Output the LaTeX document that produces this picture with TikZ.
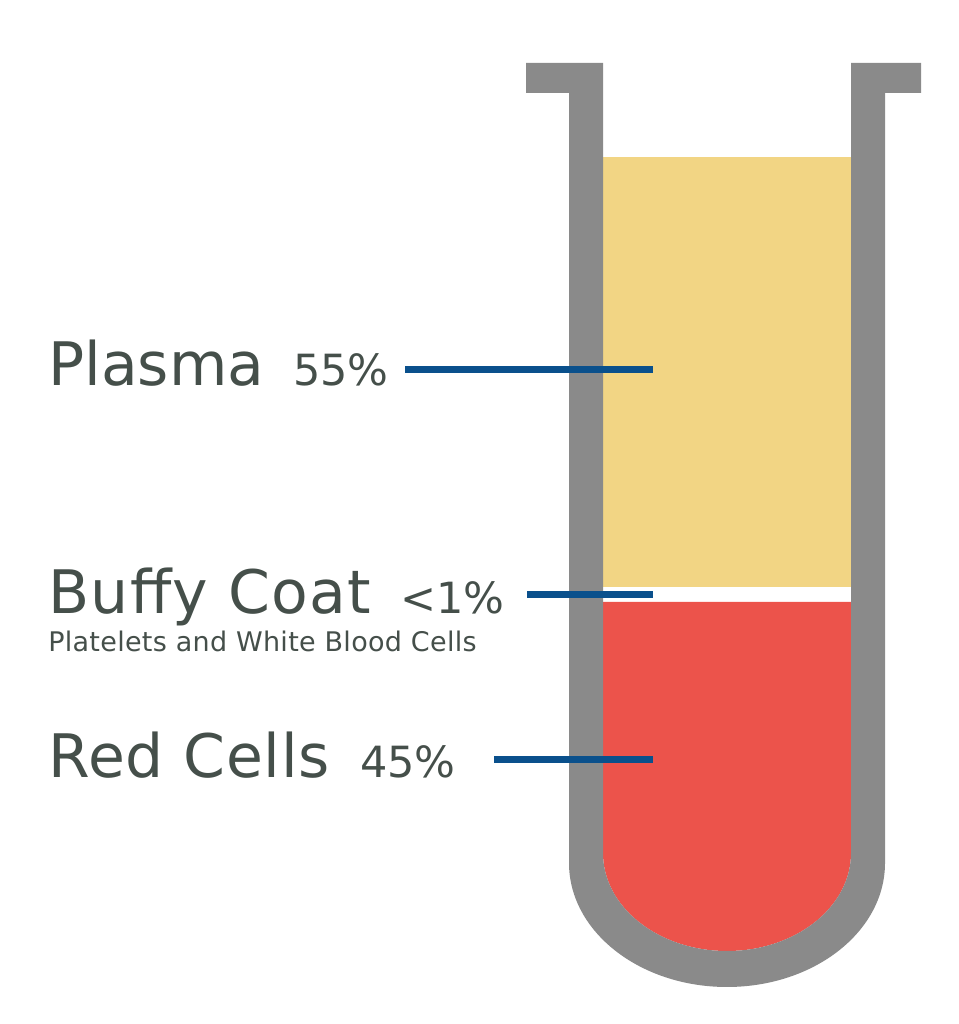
\documentclass[tikz,border=0pt]{standalone}
\usepackage{fontspec}
\setmainfont{DejaVu Sans}
\definecolor{txt}{RGB}{69,79,74}
\definecolor{leadblue}{RGB}{10,80,140}
\definecolor{tubegray}{RGB}{138,138,138}
\definecolor{plasmacol}{RGB}{242,213,132}
\definecolor{redcol}{RGB}{236,83,75}
\begin{document}
\begin{tikzpicture}[x=0.75pt,y=0.75pt,
  biglabel/.style={anchor=base west,inner sep=0pt,text=txt,font=\fontsize{45}{54}\selectfont},
  pctlabel/.style={anchor=base west,inner sep=0pt,text=txt,font=\fontsize{32.25}{38}\selectfont},
  sublabel/.style={anchor=base west,inner sep=0pt,text=txt,font=\fontsize{20.25}{24}\selectfont\addfontfeature{LetterSpace=1.1}},
  lead/.style={draw=leadblue,line width=5.25pt}]
\useasboundingbox (0,0) rectangle (959,1024);
% contents
\fill[plasmacol] (603,437) rectangle (851,867);
\fill[redcol] (603,422) -- (603,171) arc[start angle=180,end angle=360,x radius=93pt,y radius=73.5pt] -- (851,422) -- cycle;
% tube
\fill[tubegray] (526,961) -- (603,961) -- (603,171)
  arc[start angle=180,end angle=360,x radius=93pt,y radius=73.5pt]
  -- (851,961) -- (921,961) -- (921,931) -- (885,931) -- (885,161)
  arc[start angle=0,end angle=-180,x radius=118.5pt,y radius=93pt]
  -- (569,931) -- (526,931) -- cycle;
% labels
\node[biglabel] (plasma) at (48,638) {Plasma};
\node[pctlabel] (plasmapct) at (293,638) {55\%};
\node[biglabel,font=\fontsize{45}{54}\selectfont\addfontfeature{LetterSpace=2.2}] (buffy) at (48,410) {Buffy Coat};
\node[pctlabel] (buffypct) at (400,410) {<1\%};
\node[sublabel] (buffysub) at (48,372) {Platelets and White Blood Cells};
\node[biglabel,font=\fontsize{45}{54}\selectfont\addfontfeature{LetterSpace=1.3}] (red) at (48,246) {Red Cells};
\node[pctlabel] (redpct) at (360,246) {45\%};
% leader lines
\coordinate (pl1) at (405,654); \coordinate (pl2) at (653,654);
\coordinate (bc1) at (527,429); \coordinate (bc2) at (653,429);
\coordinate (rc1) at (494,264); \coordinate (rc2) at (653,264);
\draw[lead] (pl1) -- (pl2);
\draw[lead] (bc1) -- (bc2);
\draw[lead] (rc1) -- (rc2);
\end{tikzpicture}
\end{document}
